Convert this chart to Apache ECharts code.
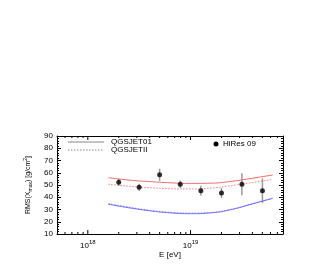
<!DOCTYPE html>
<html><head><meta charset="utf-8">
<script src="https://cdn.jsdelivr.net/npm/echarts@6/dist/echarts.min.js"></script>
<style>html,body{margin:0;padding:0;background:#fff}#c{width:327px;height:278px}</style>
</head><body><div id="c"></div>
<script>
// HiRes 09 data: energy (eV), RMS(Xmax), error
var hiresE = [2e18, 3.16e18, 5e18, 7.94e18, 1.26e19, 2e19, 3.16e19, 5.01e19];
var hiresRMS = [52.2, 48.1, 58.3, 50.6, 45.4, 43.5, 50.6, 45.4];
var hiresErr = [3.0, 3.0, 5.0, 3.0, 4.0, 4.0, 9.0, 10.0];

// model curves (log10 E, RMS)
var curveLogE = [18.2, 18.4, 18.6, 18.8, 19.0, 19.2, 19.4, 19.6, 19.8];
var protonQGSJET01 = [56.0, 54.0, 52.8, 51.8, 51.3, 51.5, 53.0, 55.5, 58.2];
var protonQGSJETII = [50.6, 49.0, 47.8, 47.0, 46.8, 47.5, 49.5, 52.0, 54.5];
var ironQGSJET01 = [34.3, 31.4, 29.0, 27.3, 26.6, 27.3, 30.0, 34.5, 39.1];
var ironQGSJETII = [34.8, 31.9, 29.4, 27.7, 27.0, 27.6, 30.3, 34.8, 39.3];

var legendNames = ['QGSJET01', 'QGSJETII', 'HiRes 09'];
var xMajorLabels = {18: '18', 19: '19'};

function lg(v){ return Math.log10(v); }
function pair(xs, ys){ return xs.map(function(x,i){ return [x, ys[i]]; }); }

var xTickVals = [];
[17, 18, 19].forEach(function(d){
  for (var k = 1; k <= 9; k++) {
    var v = d + Math.log10(k);
    if (v >= 17.7 && v <= 19.9) xTickVals.push([v, k === 1 ? 1 : 0]);
  }
});

var chart = echarts.init(document.getElementById('c'), null, {renderer: 'canvas'});
var font = 'Liberation Sans, Arial, sans-serif';
var txt = {fontSize: 8, fontFamily: font, fill: '#000'};
var option = {
  animation: false,
  backgroundColor: '#fff',
  grid: {left: 57, right: 44, top: 136, bottom: 44},
  graphic: [
    {type: 'line', shape: {x1: 68, y1: 142, x2: 104, y2: 142}, style: {stroke: '#888', lineWidth: 1}},
    {type: 'text', left: 111, top: 138, style: Object.assign({text: legendNames[0]}, txt)},
    {type: 'line', shape: {x1: 68, y1: 150, x2: 104, y2: 150}, style: {stroke: '#888', lineWidth: 1, lineDash: [1.5, 1.5]}},
    {type: 'text', left: 111, top: 146, style: Object.assign({text: legendNames[1]}, txt)},
    {type: 'circle', shape: {cx: 216, cy: 144, r: 2.5}, style: {fill: '#000'}},
    {type: 'text', left: 223, top: 140, style: Object.assign({text: legendNames[2]}, txt)}
  ],
  xAxis: [{
    type: 'value', min: 17.7, max: 19.9, interval: 0.1,
    axisLine: {show: true, lineStyle: {color: '#000', width: 1}},
    axisTick: {show: false}, splitLine: {show: false},
    axisLabel: {
      margin: 5, interval: 0, showMinLabel: true, showMaxLabel: true,
      formatter: function(v){
        var r = Math.round(v);
        if (Math.abs(v - r) < 1e-6 && xMajorLabels[r]) return '{a|10}{b|' + xMajorLabels[r] + '}';
        return '';
      },
      rich: {a: {fontSize: 8, fontFamily: font, color: '#000', lineHeight: 11, verticalAlign: 'bottom'},
             b: {fontSize: 6, fontFamily: font, color: '#000', lineHeight: 11, verticalAlign: 'top'}}
    },
    name: 'E [eV]', nameLocation: 'middle', nameGap: 17,
    nameTextStyle: {fontSize: 8, fontFamily: font, color: '#000'}
  }, {
    type: 'value', position: 'top', min: 17.7, max: 19.9,
    axisLine: {show: true, lineStyle: {color: '#000', width: 1}},
    axisTick: {show: false}, axisLabel: {show: false}, splitLine: {show: false}
  }],
  yAxis: [{
    type: 'value', min: 10, max: 90, interval: 10,
    axisLine: {show: true, lineStyle: {color: '#000', width: 1}},
    axisTick: {show: true, inside: true, length: 4, lineStyle: {color: '#000'}},
    minorTick: {show: true, splitNumber: 5, length: 2, lineStyle: {color: '#000'}},
    splitLine: {show: false},
    axisLabel: {fontSize: 8, fontFamily: font, color: '#000', margin: 4},
    name: '{n|RMS(X}{s|max}{n|) [g/cm}{p|2}{n|]}', nameLocation: 'middle', nameGap: 22,
    nameTextStyle: {
      rich: {n: {fontSize: 7, fontFamily: font, color: '#000', lineHeight: 10, verticalAlign: 'middle'},
             s: {fontSize: 5, fontFamily: font, color: '#000', lineHeight: 10, verticalAlign: 'bottom'},
             p: {fontSize: 5, fontFamily: font, color: '#000', lineHeight: 10, verticalAlign: 'top'}}
    }
  }, {
    type: 'value', position: 'right', min: 10, max: 90, interval: 10,
    axisLine: {show: true, lineStyle: {color: '#000', width: 1}},
    axisTick: {show: true, inside: true, length: 4, lineStyle: {color: '#000'}},
    minorTick: {show: true, splitNumber: 5, length: 2, lineStyle: {color: '#000'}},
    splitLine: {show: false}, axisLabel: {show: false}
  }],
  series: [
    {
      name: 'QGSJET01', type: 'line', smooth: true, showSymbol: false,
      data: pair(curveLogE, protonQGSJET01),
      lineStyle: {color: '#f26b6b', width: 1},
      markPoint: {
        symbol: 'none',
        label: {show: true, formatter: 'proton', color: '#f02020', fontSize: 8, fontFamily: font},
        data: [{coord: [19.1, 56.8]}]
      }
    },
    {
      name: 'QGSJETII', type: 'line', smooth: true, showSymbol: false,
      data: pair(curveLogE, protonQGSJETII),
      lineStyle: {color: '#f58080', width: 1, type: [1.5, 1.5]}
    },
    {
      name: 'ironQ01', type: 'line', smooth: true, showSymbol: false,
      data: pair(curveLogE, ironQGSJET01),
      lineStyle: {color: '#6b6bf2', width: 1},
      markPoint: {
        symbol: 'none',
        label: {show: true, formatter: 'iron', color: '#2020e0', fontSize: 8, fontFamily: font},
        data: [{coord: [19.07, 22.6]}]
      }
    },
    {
      name: 'ironQII', type: 'line', smooth: true, showSymbol: false,
      data: pair(curveLogE, ironQGSJETII),
      lineStyle: {color: '#8080f5', width: 1, type: [1.5, 1.5]}
    },
    {
      name: 'errbars', type: 'custom',
      data: hiresE.map(function(e,i){ return [lg(e), hiresRMS[i] - hiresErr[i], hiresRMS[i] + hiresErr[i]]; }),
      renderItem: function(params, api){
        var lo = api.coord([api.value(0), api.value(1)]);
        var hi = api.coord([api.value(0), api.value(2)]);
        return {type: 'line', shape: {x1: lo[0], y1: lo[1], x2: hi[0], y2: hi[1]},
                style: {stroke: '#999', lineWidth: 1.5}};
      },
      z: 3
    },
    {
      name: 'HiRes 09', type: 'scatter', symbol: 'circle', symbolSize: 5,
      data: pair(hiresE.map(lg), hiresRMS),
      itemStyle: {color: '#000'}, z: 4
    },
    {
      name: 'xticks', type: 'custom', silent: true,
      data: xTickVals,
      renderItem: function(params, api){
        var v = api.value(0), major = api.value(1) === 1;
        var b = api.coord([v, 10]), t = api.coord([v, 90]);
        var L = major ? 4 : 2;
        return {type: 'group', children: [
          {type: 'line', shape: {x1: b[0], y1: b[1], x2: b[0], y2: b[1] - L}, style: {stroke: '#000', lineWidth: 1}},
          {type: 'line', shape: {x1: t[0], y1: t[1], x2: t[0], y2: t[1] + L}, style: {stroke: '#000', lineWidth: 1}}
        ]};
      },
      z: 5
    }
  ]
};
chart.setOption(option);
</script>
</body></html>
